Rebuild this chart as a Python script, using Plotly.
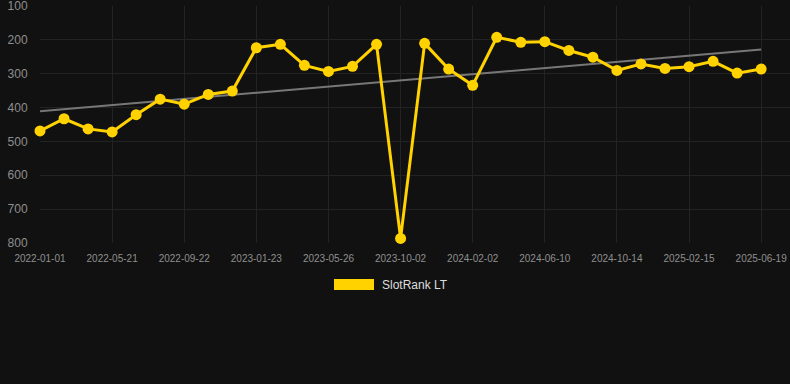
import numpy as np
import plotly.graph_objects as go

dates = ["2022-01-01", "2022-02-16", "2022-04-04", "2022-05-21", "2022-07-01", "2022-08-12",
         "2022-09-22", "2022-11-02", "2022-12-13", "2023-01-23", "2023-03-05", "2023-04-15",
         "2023-05-26", "2023-07-08", "2023-08-20", "2023-10-02", "2023-11-11", "2023-12-22",
         "2024-02-02", "2024-03-14", "2024-04-26", "2024-06-10", "2024-07-21", "2024-09-01",
         "2024-10-14", "2024-11-24", "2025-01-04", "2025-02-15", "2025-03-29", "2025-05-09",
         "2025-06-19"]
rank = [469, 433, 463, 472, 421, 375, 390, 361, 351, 223, 213, 275, 293, 278, 213, 787,
        210, 286, 334, 192, 207, 205, 231, 251, 290, 271, 284, 279, 263, 298, 286]
tick_labels = dates[::3]
y_ticks = [100, 200, 300, 400, 500, 600, 700, 800]
series_name = "SlotRank LT"

idx = np.arange(len(rank))
slope, intercept = np.polyfit(idx, rank, 1)
trend = slope * idx + intercept

BG = "#111111"
GOLD = "#FFD200"
GRID = "#232323"
TICK = "#8f8f8f"

fig = go.Figure()
fig.add_trace(go.Scatter(x=dates, y=trend, mode="lines",
                         line=dict(color="#777777", width=2),
                         showlegend=False, hoverinfo="skip"))
fig.add_trace(go.Scatter(x=dates, y=rank, mode="lines+markers", name=series_name,
                         line=dict(color=GOLD, width=3),
                         marker=dict(color=GOLD, size=11),
                         cliponaxis=False, showlegend=False))

W, H = 790, 384
L, R, T, B = 40, 0, 6, 141
pw, ph = W - L - R, H - T - B

def px_to_paper(x, y):
    return (x - L) / pw, (H - B - y) / ph

x0, y0 = px_to_paper(334, 279)
x1, y1 = px_to_paper(374, 290)
fig.add_shape(type="rect", xref="paper", yref="paper", x0=x0, x1=x1, y0=y1, y1=y0,
              fillcolor=GOLD, line=dict(width=0))
tx, ty = px_to_paper(380, 285)
fig.add_annotation(xref="paper", yref="paper", x=tx, y=ty, text=series_name,
                   showarrow=False, xanchor="left", yanchor="middle",
                   font=dict(color="#dddddd", size=12, family="Liberation Sans, Arial"))

fig.update_layout(
    width=W, height=H,
    margin=dict(l=L, r=R, t=T, b=B),
    paper_bgcolor=BG, plot_bgcolor=BG,
    font=dict(family="Liberation Sans, Arial", color=TICK),
    showlegend=False,
    xaxis=dict(type="category", range=[0, 31.2], tickmode="array",
               tickvals=tick_labels, ticktext=tick_labels,
               showgrid=True, gridcolor=GRID, gridwidth=1,
               zeroline=False, showline=False,
               tickfont=dict(size=10, color=TICK), tickangle=0,
               ticks="outside", ticklen=6, tickcolor=BG,
               ticklabeloverflow="allow"),
    yaxis=dict(range=[800.5, 99.5], tickmode="array", tickvals=y_ticks,
               showgrid=True, gridcolor=GRID, gridwidth=1,
               zeroline=False, showline=False,
               tickfont=dict(size=12, color=TICK),
               ticks="outside", ticklen=9, tickcolor=BG,
               ticklabeloverflow="allow"),
)

fig.write_html("out.html", config={"displayModeBar": False},
               post_script="document.body.style.margin='0';document.body.style.background='#111111';")
